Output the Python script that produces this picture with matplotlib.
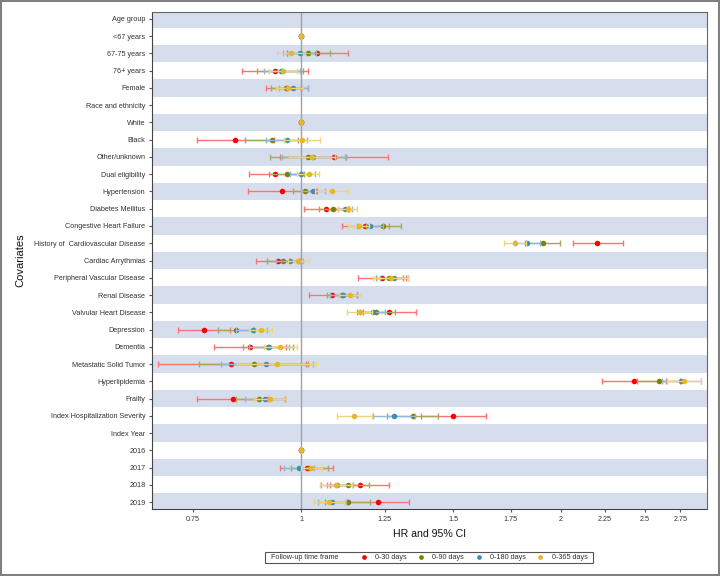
import numpy as np
import matplotlib
matplotlib.use("Agg")
import matplotlib.pyplot as plt
from matplotlib.lines import Line2D
from matplotlib.patches import Rectangle
from matplotlib.offsetbox import HPacker, TextArea, DrawingArea, AnchoredOffsetbox

plt.rcParams['font.family'] = ['Liberation Sans', 'DejaVu Sans']

nan = np.nan
rows = ["Age group", "<67 years", "67-75 years", "76+ years", "Female",
        "Race and ethnicity", "White", "Black", "Other/unknown", "Dual eligibility",
        "Hypertension", "Diabetes Mellitus", "Congestive Heart Failure",
        "History of  Cardiovascular Disease", "Cardiac Arrythmias",
        "Peripheral Vascular Disease", "Renal Disease", "Valvular Heart Disease",
        "Depression", "Dementia", "Metastatic Solid Tumor", "Hyperlipidemia",
        "Frailty", "Index Hospitalization Severity", "Index Year",
        "2016", "2017", "2018", "2019"]

series_names = ["0-30 days", "0-90 days", "0-180 days", "0-365 days"]

hr_30 = [nan, 1, 1.043, 0.934, 0.962, nan, 1, 0.839, 1.092, 0.933, 0.950, 1.070, 1.187, 2.204, 0.941, 1.242, 1.087, 1.266, 0.771, 0.873, 0.830, 2.432, 0.833, 1.499, nan, 1, 1.015, 1.169, 1.228]
lo_30 = [nan, 1, 0.962, 0.855, 0.910, nan, 1, 0.758, 0.946, 0.871, 0.867, 1.009, 1.115, 2.065, 0.888, 1.165, 1.022, 1.181, 0.720, 0.793, 0.682, 2.233, 0.758, 1.377, nan, 1, 0.946, 1.079, 1.132]
hi_30 = [nan, 1, 1.132, 1.020, 1.020, nan, 1, 0.930, 1.260, 1.000, 1.041, 1.135, 1.266, 2.358, 0.997, 1.324, 1.160, 1.360, 0.828, 0.961, 1.014, 2.648, 0.915, 1.637, nan, 1, 1.090, 1.266, 1.332]

hr_90 = [nan, 1, 1.019, 0.948, 0.960, nan, 1, 0.925, 1.020, 0.962, 1.011, 1.090, 1.243, 1.905, 0.952, 1.265, 1.115, 1.221, 0.841, 0.915, 0.881, 2.598, 0.895, 1.347, nan, 1, 1.022, 1.134, 1.133]
lo_90 = [nan, 1, 0.962, 0.890, 0.922, nan, 1, 0.861, 0.921, 0.918, 0.980, 1.048, 1.190, 1.818, 0.913, 1.220, 1.073, 1.160, 0.802, 0.856, 0.761, 2.450, 0.840, 1.259, nan, 1, 0.973, 1.072, 1.066]
hi_90 = [nan, 1, 1.080, 1.006, 1.000, nan, 1, 0.993, 1.127, 1.008, 1.043, 1.134, 1.304, 1.997, 0.993, 1.311, 1.160, 1.285, 0.882, 0.978, 1.020, 2.750, 0.958, 1.440, nan, 1, 1.074, 1.200, 1.202]

hr_180 = [nan, 1, 0.997, 0.950, 0.980, nan, 1, 0.962, 1.033, 1.000, 1.033, 1.124, 1.202, 1.828, 0.970, 1.282, 1.119, 1.211, 0.879, 0.918, 0.912, 2.757, 0.908, 1.281, nan, 1, 0.995, 1.102, 1.085]
lo_180 = [nan, 1, 0.954, 0.906, 0.944, nan, 1, 0.910, 0.950, 0.970, 1.000, 1.104, 1.160, 1.770, 0.935, 1.235, 1.081, 1.170, 0.840, 0.870, 0.807, 2.617, 0.861, 1.213, nan, 1, 0.956, 1.055, 1.045]
hi_180 = [nan, 1, 1.042, 0.997, 1.018, nan, 1, 1.017, 1.123, 1.039, 1.065, 1.145, 1.245, 1.890, 1.006, 1.331, 1.160, 1.250, 0.913, 0.968, 1.032, 2.906, 0.958, 1.355, nan, 1, 1.036, 1.150, 1.128]

hr_365 = [nan, 1, 0.974, 0.953, 0.965, nan, 1, 1.003, 1.030, 1.021, 1.085, 1.133, 1.168, 1.770, 0.993, 1.270, 1.140, 1.170, 0.898, 0.946, 0.937, 2.775, 0.921, 1.153, nan, 1, 1.027, 1.098, 1.078]
lo_365 = [nan, 1, 0.939, 0.917, 0.936, nan, 1, 0.956, 0.968, 0.990, 1.038, 1.104, 1.134, 1.720, 0.965, 1.213, 1.107, 1.131, 0.871, 0.906, 0.844, 2.652, 0.882, 1.100, nan, 1, 1.000, 1.053, 1.035]
hi_365 = [nan, 1, 1.010, 0.990, 1.006, nan, 1, 1.052, 1.096, 1.050, 1.134, 1.162, 1.200, 1.822, 1.022, 1.331, 1.172, 1.210, 0.926, 0.989, 1.041, 2.906, 0.961, 1.210, nan, 1, 1.057, 1.145, 1.120]

xticks = [0.75, 1, 1.25, 1.5, 1.75, 2, 2.25, 2.5, 2.75]
xtick_labels = ["0.75", "1", "1.25", "1.5", "1.75", "2", "2.25", "2.5", "2.75"]

marker_colors = ["#FF0000", "#7F7F00", "#3F8BBA", "#E8B52C"]
line_colors = ["#FF7373", "#A8A85A", "#8DBAD6", "#F0D37E"]

fig = plt.figure(figsize=(7.2, 5.76), dpi=100)
ax = fig.add_axes([152/720, 1-509/576, (707-152)/720, (509-12)/576])

n = len(rows)
y = np.arange(n)
for i in range(0, n, 2):
    ax.axhspan(i-0.5, i+0.5, color="#D6DEEE", lw=0, zorder=0)

ax.axvline(1, color="#A0A0A0", lw=1, zorder=1)

data = [(hr_30, lo_30, hi_30), (hr_90, lo_90, hi_90),
        (hr_180, lo_180, hi_180), (hr_365, lo_365, hi_365)]
for k, (hr, lo, hi) in enumerate(data):
    hr = np.array(hr, float); lo = np.array(lo, float); hi = np.array(hi, float)
    ax.errorbar(hr, y, xerr=[hr-lo, hi-hr], fmt='none', ecolor=line_colors[k],
                elinewidth=1.0, capsize=1.9, capthick=1.0, zorder=2+2*k)
    ax.plot(hr, y, linestyle='none', marker='o', markersize=4.0,
            color=marker_colors[k], markeredgewidth=0, zorder=3+2*k)

ax.set_xscale('log')
ax.set_xlim(0.672, 2.953)
ax.set_ylim(28.4, -0.4)
ax.set_xticks(xticks)
ax.set_xticklabels(xtick_labels)
ax.xaxis.set_minor_locator(matplotlib.ticker.NullLocator())
ax.set_yticks(y)
ax.set_yticklabels(rows)
ax.tick_params(axis='both', labelsize=5.2, colors="#555555", labelcolor="#333333",
               length=2.2, width=0.8, pad=2.5)
for s in ax.spines.values():
    s.set_color("#666666")
    s.set_linewidth(0.8)
ax.spines['left'].set_color("#444444")
ax.spines['bottom'].set_color("#444444")

ax.set_xlabel("HR and 95% CI", fontsize=7.6, color="#111111")
ax.xaxis.set_label_coords(0.5, -0.040)
ax.set_ylabel("Covariates", fontsize=8, color="#111111")
ax.yaxis.set_label_coords(-0.2288, 0.5)

# inline legend: title text followed by marker/label pairs
tp = dict(size=5.25, color="#333333")
entries = []
for k in range(4):
    da = DrawingArea(5.8, 4, 0, 0)
    da.add_artist(Line2D([2.9], [2], linestyle='none', marker='o', markersize=3.4,
                         color=marker_colors[k], markeredgewidth=0))
    entries.append(HPacker(children=[da, TextArea(series_names[k], textprops=tp)],
                           sep=5.2, align="center", pad=0))
inner = HPacker(children=entries, sep=7.6, align="center", pad=0)
content = HPacker(children=[TextArea("Follow-up time frame", textprops=tp), inner],
                  sep=15.5, align="center", pad=0)
row = HPacker(children=[DrawingArea(2.5, 1), content, DrawingArea(2.5, 1)],
              sep=0, align="center", pad=0)
anch = AnchoredOffsetbox(loc='center', child=row, pad=0.2, borderpad=0,
                         frameon=True, prop=dict(size=7),
                         bbox_to_anchor=(429/720, 1-557.5/576),
                         bbox_transform=fig.transFigure)
anch.patch.set_edgecolor("#555555")
anch.patch.set_linewidth(0.8)
anch.patch.set_boxstyle("square", pad=0)
fig.add_artist(anch)

fig.patches.append(Rectangle((0.0015, 0.002), 0.997, 0.996, transform=fig.transFigure,
                             fill=False, edgecolor="#808080", lw=1.5))

fig.savefig("out.png", dpi=100)
